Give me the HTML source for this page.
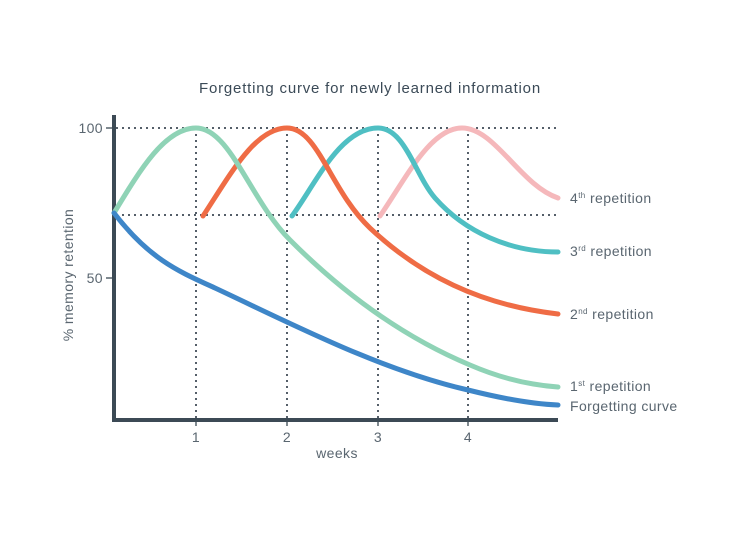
<!DOCTYPE html>
<html><head><meta charset="utf-8"><style>
html,body{margin:0;padding:0;background:#fff;}
svg{display:block;font-family:"Liberation Sans",sans-serif;}
</style></head><body>
<svg width="740" height="536" viewBox="0 0 740 536">
<text x="370" y="93" text-anchor="middle" font-size="15" letter-spacing="0.8" fill="#3b4a57">Forgetting curve for newly learned information</text>
<g stroke="#555f69" stroke-width="2" stroke-dasharray="2,4" fill="none">
<line x1="116" y1="128" x2="558" y2="128"/>
<line x1="116" y1="215" x2="558" y2="215"/>
<line x1="196" y1="128" x2="196" y2="418"/>
<line x1="287" y1="128" x2="287" y2="418"/>
<line x1="378" y1="128" x2="378" y2="418"/>
<line x1="468" y1="128" x2="468" y2="418"/>
</g>
<g stroke="#3c4a55" stroke-width="1.3">
<line x1="106" y1="128" x2="114" y2="128"/>
<line x1="106" y1="278" x2="114" y2="278"/>
<line x1="196" y1="420" x2="196" y2="426"/>
<line x1="287" y1="420" x2="287" y2="426"/>
<line x1="378" y1="420" x2="378" y2="426"/>
<line x1="468" y1="420" x2="468" y2="426"/>
</g>
<path d="M114,115 V420 H558" stroke="#3c4a55" stroke-width="4" fill="none"/>
<g font-size="14" letter-spacing="0.4" fill="#5a6670">
<text x="103" y="133" text-anchor="end">100</text>
<text x="103" y="283" text-anchor="end">50</text>
<text x="196" y="442" text-anchor="middle">1</text>
<text x="287" y="442" text-anchor="middle">2</text>
<text x="378" y="442" text-anchor="middle">3</text>
<text x="468" y="442" text-anchor="middle">4</text>
<text x="337" y="458" text-anchor="middle">weeks</text>
<text transform="translate(73,275) rotate(-90)" text-anchor="middle">% memory retention</text>
<text x="570" y="203">4<tspan font-size="8" dy="-5">th</tspan><tspan dy="5"> repetition</tspan></text>
<text x="570" y="256">3<tspan font-size="8" dy="-5">rd</tspan><tspan dy="5"> repetition</tspan></text>
<text x="570" y="319">2<tspan font-size="8" dy="-5">nd</tspan><tspan dy="5"> repetition</tspan></text>
<text x="570" y="391">1<tspan font-size="8" dy="-5">st</tspan><tspan dy="5"> repetition</tspan></text>
<text x="570" y="411">Forgetting curve</text>
</g>
<g fill="none" stroke-width="5" stroke-linecap="round">
<path d="M380,216 C405,180 430,128 462,128 C495,128 520,185 558,198" stroke="#f5b8bb"/>
<path d="M292,216 C315,185 340,128 378,128 C405,128 415,175 435,198 C465,232 510,252 558,252" stroke="#4fbfc3"/>
<path d="M203,216 C230,175 255,128 287,128 C318,128 330,190 370,228 C420,275 480,305 558,314" stroke="#ef6c45"/>
<path d="M114,213 C140,170 165,128 196,128 C230,128 250,200 290,240 C350,300 410,340 470,365 C500,378 530,385 558,387" stroke="#8fd3b6"/>
<path d="M114,213 C150,260 180,272 215,288 C290,323 380,370 468,390 C500,398 530,404 558,405" stroke="#3e86c8"/>
</g>
</svg>
</body></html>
